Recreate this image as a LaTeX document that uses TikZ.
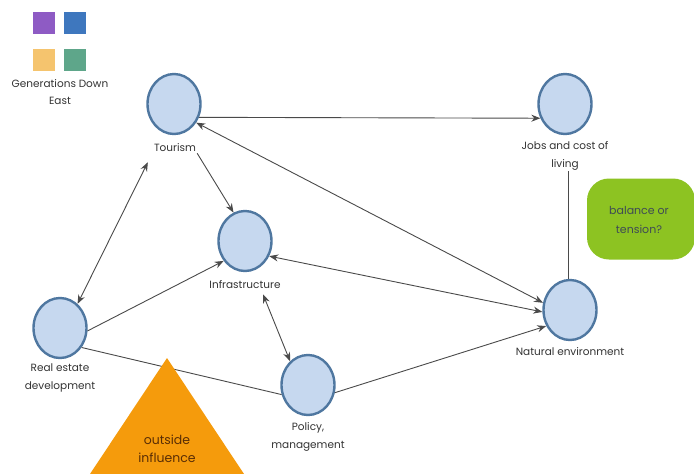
\documentclass[tikz,border=0pt]{standalone}
\usepackage{fontspec}
\setmainfont{Poppins}
\usetikzlibrary{shapes.geometric,arrows.meta}
\definecolor{cfill}{HTML}{C6D8EF}
\definecolor{cdraw}{HTML}{4F77A0}
\definecolor{lgray}{HTML}{4A4A4A}
\definecolor{lpurple}{HTML}{8E5BC4}
\definecolor{lblue}{HTML}{3E77BE}
\definecolor{lorange}{HTML}{F5C46E}
\definecolor{lteal}{HTML}{5EA68A}
\definecolor{tri}{HTML}{F59B0C}
\definecolor{brown}{HTML}{5A2E05}
\definecolor{lime}{HTML}{8DC322}
\definecolor{btext}{HTML}{3F4B55}
\tikzset{
  bubble/.style={ellipse, draw=cdraw, line width=2.4pt, fill=cfill, minimum width=53pt, minimum height=60pt, inner sep=0pt},
  lbl/.style={font=\fontsize{10.5}{17.5}\selectfont, text=black!80, align=center, inner sep=1pt},
  conn/.style={draw=lgray, line width=0.9pt},
  tip/.style={-{Stealth[length=9pt,width=7pt]}},
  dtip/.style={{Stealth[length=9pt,width=7pt]}-{Stealth[length=9pt,width=7pt]}},
  sq/.style={minimum size=22pt, inner sep=0pt},
}
\begin{document}
\begin{tikzpicture}[x=1pt,y=-1pt]
\useasboundingbox (0,0) rectangle (694,474);
\fill[white] (0,0) rectangle (694,474);
% legend
\node[sq, fill=lpurple] (s1) at (44,23) {};
\node[sq, fill=lblue] (s2) at (75,23) {};
\node[sq, fill=lorange] (s3) at (44,60) {};
\node[sq, fill=lteal] (s4) at (75,60) {};
\node[lbl] (leg) at (60,92) {Generations Down\\East};
% bubbles
\node[bubble] (tour) at (174,104) {};
\node[bubble] (jobs) at (565,104) {};
\node[bubble] (infra) at (245,241) {};
\node[bubble] (real) at (60,328) {};
\node[bubble] (policy) at (308,385) {};
\node[bubble] (nat) at (570,310) {};
% labels
\node[lbl] (tourL) at (175,148) {Tourism};
\node[lbl] (jobsL) at (565,156) {Jobs and cost of\\living};
\node[lbl] (infraL) at (245,285) {Infrastructure};
\node[lbl] (realL) at (60,378) {Real estate\\development};
\node[lbl] (polL) at (308,437) {Policy,\\management};
\node[lbl] (natL) at (570,352) {Natural environment};
% balance box
\node[fill=lime, rounded corners=22pt, minimum width=108pt, minimum height=81pt] (bal) at (641,219) {};
\node[align=center, font=\fontsize{11}{18.5}\selectfont, text=btext] (balL) at (639,220) {balance or\\tension?};
% connectors
\draw[conn, tip] (tour.-28) -- (jobs.-150);
\draw[conn, tip] (tourL.south east) -- (infra.112);
\draw[conn, dtip] (real.54) -- ([xshift=-5pt,yshift=-9pt]tourL.south west);
\draw[conn, dtip] (tour.-40) -- (nat.165);
\draw[conn, tip] (real.-6) -- (infra.223);
\draw[conn, dtip] (infra.-32) -- (nat.184);
\draw[conn, dtip] ([xshift=18pt,yshift=-4pt]infraL.south) -- (policy.127);
\draw[conn] (real.-42) -- (policy.200);
\draw[conn, tip] (policy.-16) -- (nat.214);
\draw[conn] ([xshift=-2pt]nat.north |- jobsL.south) -- ([xshift=-2pt]nat.north);
% triangle
\fill[tri] (167,358) -- (244,474) -- (90,474) -- cycle;
\node[font=\fontsize{12.5}{18}\selectfont, text=brown, align=center] (outL) at (167,449) {outside\\influence};
\end{tikzpicture}
\end{document}
